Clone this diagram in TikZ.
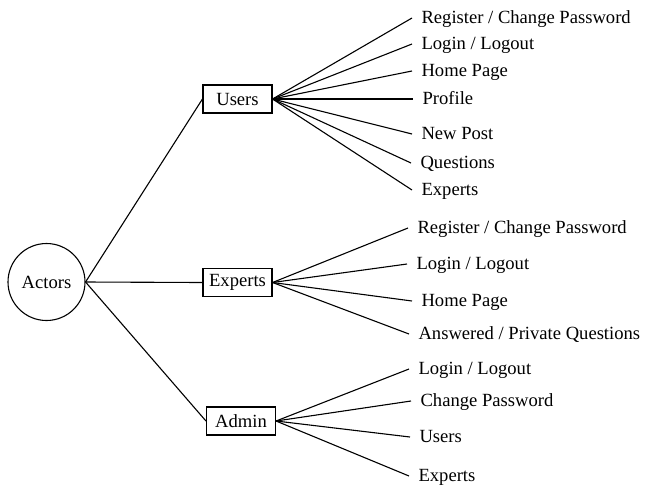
\documentclass[tikz,border=0pt]{standalone}
\usepackage{fontspec}
\setmainfont{Liberation Serif}
\begin{document}
\begin{tikzpicture}[
  x=1pt, y=-1pt,
  line width=1.1pt,
  font=\fontsize{18.6}{22}\selectfont,
  actor/.style={draw, circle, minimum size=77pt, inner sep=0pt},
  role/.style={draw, rectangle, minimum width=69pt, minimum height=28pt, inner sep=2pt},
  item/.style={anchor=west, inner xsep=9pt, inner ysep=0pt, text height=1.15em, text depth=0.1em}
]
\useasboundingbox (0,0) rectangle (645,488);
\node [actor] (actors) at (46.5,282) {Actors};
\node [role] (users) at (237.5,99) {Users};
\node [role] (experts) at (237.5,282.5) {Experts};
\node [role] (admin) at (241,421) {Admin};
\draw (actors.east) -- (users.west);
\draw (actors.east) -- (experts.west);
\draw (actors.east) -- (admin.west);
\node [item] (ureg) at (412,18) {Register / Change Password};
\node [item] (ulog) at (412,44) {Login / Logout};
\node [item] (uhome) at (412,71) {Home Page};
\node [item] (uprof) at (413,99) {Profile};
\node [item] (upost) at (412,134) {New Post};
\node [item] (uques) at (411,163) {Questions};
\node [item] (uexp) at (412,190) {Experts};
\draw (users.east) -- (ureg.west);
\draw (users.east) -- (ulog.west);
\draw (users.east) -- (uhome.west);
\draw (users.east) -- (uprof.west);
\draw (users.east) -- (upost.west);
\draw (users.east) -- (uques.west);
\draw (users.east) -- (uexp.west);
\node [item] (ereg) at (408,228) {Register / Change Password};
\node [item] (elog) at (407,264) {Login / Logout};
\node [item] (ehome) at (412,301) {Home Page};
\node [item] (eans) at (409,334) {Answered / Private Questions};
\draw (experts.east) -- (ereg.west);
\draw (experts.east) -- (elog.west);
\draw (experts.east) -- (ehome.west);
\draw (experts.east) -- (eans.west);
\node [item] (alog) at (409,369) {Login / Logout};
\node [item] (apass) at (411,401) {Change Password};
\node [item] (ausers) at (410,437) {Users};
\node [item] (aexp) at (409,476) {Experts};
\draw (admin.east) -- (alog.west);
\draw (admin.east) -- (apass.west);
\draw (admin.east) -- (ausers.west);
\draw (admin.east) -- (aexp.west);
\end{tikzpicture}
\end{document}
